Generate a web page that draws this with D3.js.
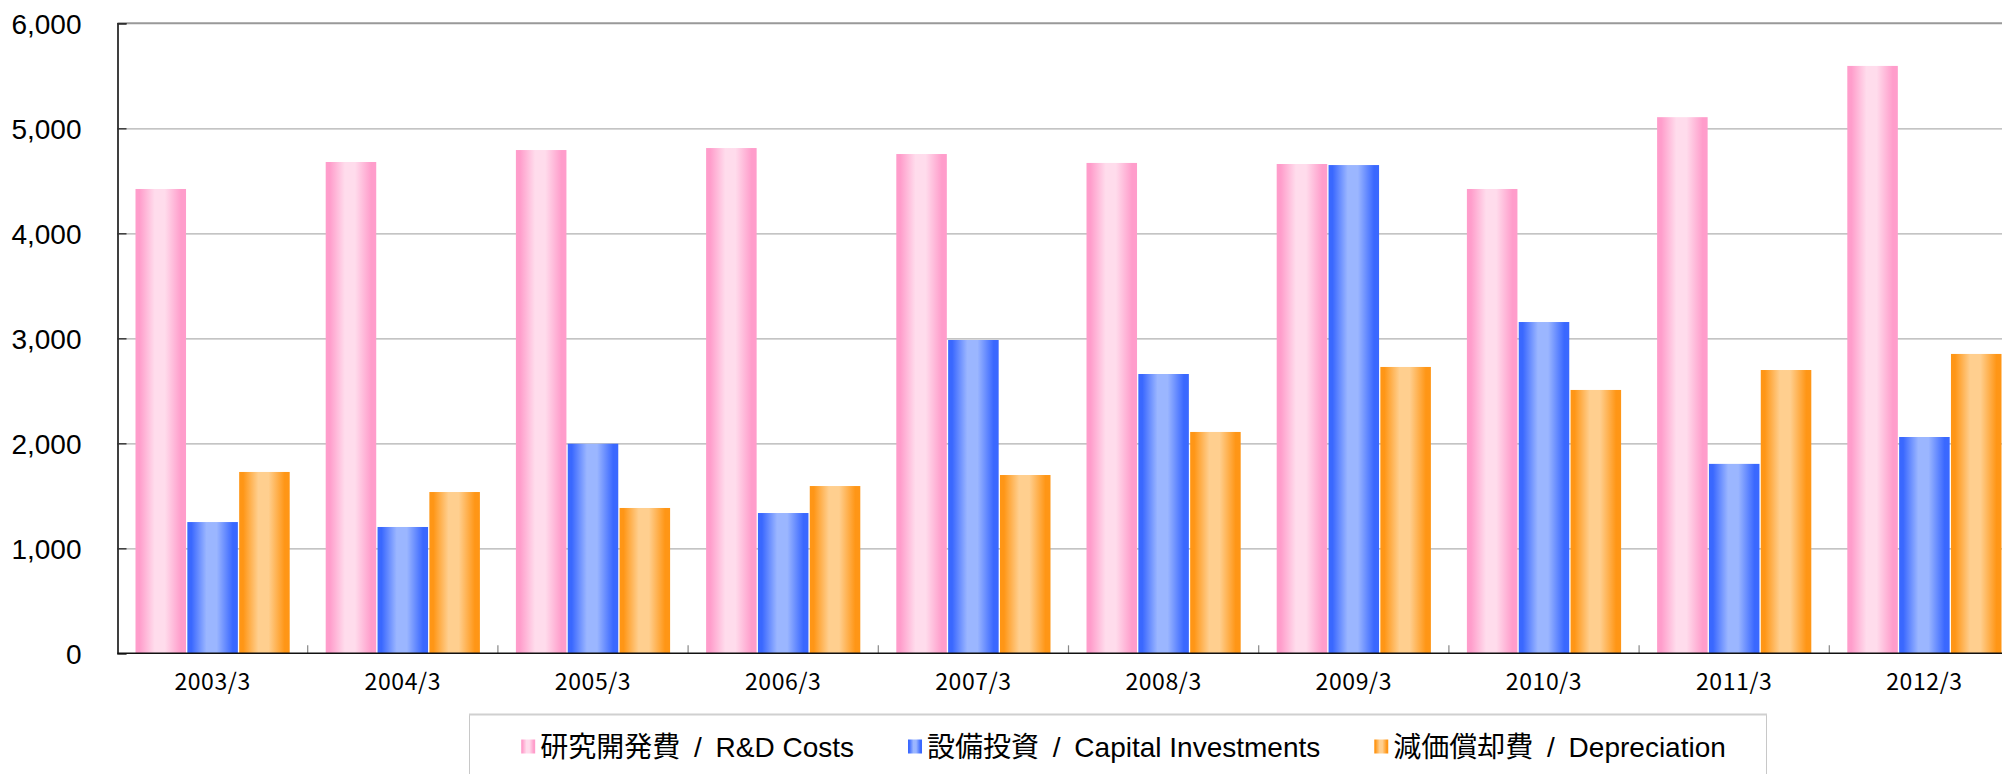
<!DOCTYPE html>
<html lang="ja">
<head>
<meta charset="utf-8">
<title>R&amp;D / Capex / Depreciation</title>
<script src="https://cdn.jsdelivr.net/npm/d3@7"></script>
<style>
  html, body { margin: 0; padding: 0; background: #fff; overflow: hidden; }
  .ylab text { font-family: "Liberation Sans", Arial, sans-serif; font-size: 28px; fill: #000; }
  .xlab text { font-family: "Noto Sans CJK JP", sans-serif; font-size: 23px; fill: #000; letter-spacing: 0.6px; }
  .legend text { font-family: "Liberation Sans", "Noto Sans CJK JP", sans-serif; font-size: 28px; fill: #000; }
  .legend tspan.sep { word-spacing: 6px; }
</style>
</head>
<body>
<script>
// data
var categories = ["2003/3", "2004/3", "2005/3", "2006/3", "2007/3", "2008/3", "2009/3", "2010/3", "2011/3", "2012/3"];
var rdCosts      = [4422, 4679, 4793, 4812, 4755, 4670, 4660, 4422, 5106, 5594];
var capitalInv   = [1250, 1203, 1996, 1336, 2984, 2660, 4650, 3155, 1804, 2060];
var depreciation = [1727, 1536, 1384, 1593, 1698, 2108, 2727, 2508, 2698, 2851];
var seriesNames  = ["研究開発費 / R&D Costs", "設備投資 / Capital Investments", "減価償却費 / Depreciation"];
var yTicks = [0, 1000, 2000, 3000, 4000, 5000, 6000];

var W = 2002, H = 774;
var plotLeft = 117.5, plotTop = 23.3, plotBottom = 653.3, plotRight = 2019.5;

var svg = d3.select("body").append("svg")
  .attr("width", W).attr("height", H);

// gradients: dark edges, light middle
var defs = svg.append("defs");
var palette = [
  { id: "gPink",   edge: "#ff9dcb", mid: "#ffdcec" },
  { id: "gBlue",   edge: "#3a68ff", mid: "#9bb6ff" },
  { id: "gOrange", edge: "#ff9616", mid: "#ffcf8f" }
];
palette.forEach(function(p) {
  var g = defs.append("linearGradient").attr("id", p.id)
    .attr("x1", "0%").attr("x2", "100%").attr("y1", "0%").attr("y2", "0%");
  [[0, p.edge], [0.08, p.edge], [0.38, p.mid], [0.58, p.mid], [0.9, p.edge], [1, p.edge]]
    .forEach(function(s) {
      g.append("stop").attr("offset", s[0]).attr("stop-color", s[1]);
    });
});

var y = d3.scaleLinear().domain([0, 6000]).range([plotBottom, plotTop]);
var x0 = d3.scaleBand().domain(categories).range([plotLeft, plotRight]).padding(0);
var x1 = d3.scaleBand().domain([0, 1, 2]).range([18, x0.bandwidth() - 18]).paddingInner(0.025);

// gridlines
svg.append("g")
  .attr("transform", "translate(" + plotLeft + ",0)")
  .call(d3.axisLeft(y).tickValues(yTicks.slice(1, -1)).tickSize(-(plotRight - plotLeft)).tickFormat(""))
  .call(function(g) {
    g.select(".domain").remove();
    g.selectAll("line").attr("stroke", "#b0b0b0").attr("stroke-width", 1.2);
  });

// top frame line
svg.append("line")
  .attr("x1", plotLeft).attr("x2", W).attr("y1", y(6000)).attr("y2", y(6000))
  .attr("stroke", "#999").attr("stroke-width", 2);

// bars
var data = categories.map(function(c, i) {
  return { cat: c, vals: [rdCosts[i], capitalInv[i], depreciation[i]] };
});

var groups = svg.append("g").selectAll("g")
  .data(data)
  .enter()
  .append("g")
  .attr("transform", function(d) { return "translate(" + x0(d.cat) + ",0)"; });

groups.selectAll("rect")
  .data(function(d) { return d.vals.map(function(v, k) { return { k: k, v: v }; }); })
  .enter()
  .append("rect")
  .attr("x", function(d) { return x1(d.k); })
  .attr("width", x1.bandwidth())
  .attr("y", function(d) { return y(d.v); })
  .attr("height", function(d) { return plotBottom - y(d.v); })
  .attr("fill", function(d) { return "url(#" + palette[d.k].id + ")"; });

// category tick marks (inward, grey)
svg.append("g").selectAll("line")
  .data(categories.slice(1))
  .enter()
  .append("line")
  .attr("x1", function(d) { return x0(d); })
  .attr("x2", function(d) { return x0(d); })
  .attr("y1", plotBottom).attr("y2", plotBottom - 8)
  .attr("stroke", "#888").attr("stroke-width", 1.2);

// y axis with inner ticks and labels
svg.append("g")
  .attr("class", "ylab")
  .attr("transform", "translate(" + plotLeft + ",0)")
  .call(d3.axisLeft(y).tickValues(yTicks).tickSize(-9).tickPadding(36).tickFormat(d3.format(",")))
  .call(function(g) {
    g.select(".domain").attr("stroke", "#111").attr("stroke-width", 1.6);
    g.selectAll("line").attr("stroke", "#333").attr("stroke-width", 1.4);
    g.selectAll("text").attr("dy", "0.36em");
  });

// baseline
svg.append("line")
  .attr("x1", plotLeft).attr("x2", W).attr("y1", plotBottom).attr("y2", plotBottom)
  .attr("stroke", "#111").attr("stroke-width", 1.6);

// x labels
svg.append("g")
  .attr("class", "xlab")
  .attr("transform", "translate(0," + plotBottom + ")")
  .call(d3.axisBottom(x0).tickSize(0).tickPadding(20))
  .call(function(g) {
    g.select(".domain").remove();
    g.selectAll("text").attr("dy", "0.71em");
  });

// legend
var lg = svg.append("g").attr("class", "legend");
lg.append("rect")
  .attr("x", 469.5).attr("y", 714.5).attr("width", 1297).attr("height", 80)
  .attr("fill", "#fff").attr("stroke", "#c8c8c8").attr("stroke-width", 1);
lg.append("line")
  .attr("x1", 469).attr("x2", 1767).attr("y1", 714.5).attr("y2", 714.5)
  .attr("stroke", "#d0d0d0").attr("stroke-width", 2);

var items = lg.selectAll("g.item")
  .data(seriesNames)
  .enter()
  .append("g")
  .attr("class", "item");
items.append("rect")
  .attr("width", 14).attr("height", 14).attr("y", 739.5)
  .attr("fill", function(d, i) { return "url(#" + palette[i].id + ")"; });
var labels = items.append("text")
  .attr("x", 19).attr("y", 757);
labels.append("tspan").text(function(d) { return d.split(" / ")[0]; });
labels.append("tspan").attr("class", "sep").text(" / ");
labels.append("tspan").text(function(d) { return d.split(" / ")[1]; });

// centre items in the box
var gap = 54, widths = [];
items.each(function() {
  widths.push(19 + d3.select(this).select("text").node().getComputedTextLength());
});
var total = d3.sum(widths) + gap * (widths.length - 1);
var cx = 1123.5 - total / 2;
items.attr("transform", function(d, i) {
  var off = cx;
  cx += widths[i] + gap;
  return "translate(" + off + ",0)";
});
</script>
</body>
</html>
